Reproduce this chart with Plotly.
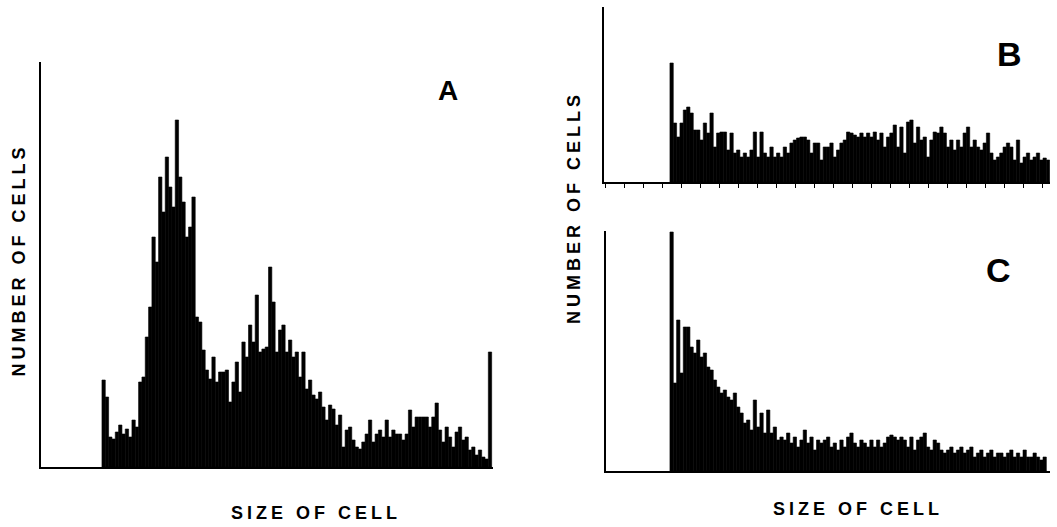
import plotly.graph_objects as go

# ---- data (counts per size channel) ----
a_counts = [87, 70, 30, 28, 35, 42, 33, 38, 30, 47,
            40, 85, 90, 130, 160, 230, 205, 290, 255, 310,
            280, 260, 347, 290, 265, 230, 240, 270, 150, 145,
            117, 97, 88, 110, 85, 95, 95, 97, 65, 85,
            105, 75, 125, 110, 142, 125, 172, 115, 118, 120,
            200, 165, 115, 137, 142, 115, 127, 110, 115, 90,
            115, 78, 87, 72, 68, 75, 60, 47, 62, 58,
            42, 52, 20, 37, 40, 27, 20, 18, 25, 33,
            47, 25, 33, 37, 30, 47, 30, 37, 33, 33,
            27, 33, 57, 40, 50, 50, 50, 50, 40, 50,
            64, 37, 25, 40, 30, 20, 35, 40, 27, 30,
            17, 20, 12, 17, 10, 8, 115]

b_counts = [119, 59, 45, 59, 72, 75, 69, 52, 52, 42,
            59, 49, 69, 35, 49, 50, 50, 32, 49, 29,
            32, 25, 29, 25, 32, 50, 25, 50, 29, 25,
            35, 25, 29, 25, 35, 29, 39, 42, 44, 45,
            45, 42, 29, 39, 39, 22, 35, 35, 39, 25,
            32, 39, 42, 50, 49, 47, 45, 49, 45, 49,
            45, 50, 42, 49, 35, 45, 49, 57, 35, 55,
            29, 60, 62, 39, 55, 42, 45, 25, 42, 50,
            49, 55, 49, 35, 42, 32, 42, 35, 49, 55,
            35, 42, 35, 32, 39, 49, 29, 22, 25, 29,
            35, 39, 35, 22, 42, 19, 25, 29, 22, 25,
            29, 22, 24, 22]

c_counts = [239, 88, 151, 98, 144, 144, 124, 118, 131, 114,
            118, 104, 101, 91, 84, 78, 81, 74, 71, 78,
            64, 58, 48, 51, 41, 71, 44, 58, 38, 61,
            38, 44, 31, 34, 31, 38, 28, 34, 24, 31,
            41, 28, 34, 21, 31, 28, 31, 34, 24, 28,
            21, 31, 24, 34, 38, 28, 24, 31, 28, 24,
            31, 24, 31, 24, 28, 34, 36, 34, 31, 34,
            31, 24, 34, 21, 31, 34, 38, 24, 21, 31,
            28, 21, 18, 21, 24, 18, 21, 24, 18, 21,
            24, 14, 18, 21, 14, 18, 21, 14, 18, 18,
            14, 18, 21, 14, 18, 14, 21, 14, 14, 18,
            14, 11, 14]

x_title = "SIZE OF CELL"
y_title = "NUMBER OF CELLS"
panel_names = ["A", "B", "C"]

W, H = 1057, 527
INK = "#000000"


def channels(counts):
    return list(range(len(counts)))


def bar(counts, xa, ya):
    return go.Bar(x=channels(counts), y=counts, xaxis=xa, yaxis=ya,
                  width=1.0, marker=dict(color=INK, line=dict(color=INK, width=0.6)),
                  showlegend=False, hoverinfo="skip")


fig = go.Figure()
fig.add_trace(bar(a_counts, "x", "y"))
fig.add_trace(bar(b_counts, "x2", "y2"))
fig.add_trace(bar(c_counts, "x3", "y3"))


def px_x(v):
    return v / W


def px_y(v):
    return 1 - v / H


axis_common = dict(showline=True, linecolor=INK, linewidth=1.6, showgrid=False,
                   zeroline=False, showticklabels=False, fixedrange=True)

fig.update_layout(
    width=W, height=H,
    margin=dict(l=0, r=0, t=0, b=0),
    paper_bgcolor="white", plot_bgcolor="white",
    bargap=0,
    xaxis=dict(domain=[px_x(41), px_x(493)], range=[-18.8, 116.9], anchor="y",
               ticks="", **axis_common),
    yaxis=dict(domain=[px_y(467), px_y(62)], range=[0, 405], anchor="x",
               ticks="", **axis_common),
    xaxis2=dict(domain=[px_x(604), px_x(1050)], range=[-20.3, 113.6], anchor="y2",
                ticks="outside", ticklen=4, tickwidth=1, tickcolor=INK,
                tick0=3.0, dtick=5.7, **axis_common),
    yaxis2=dict(domain=[px_y(182), px_y(7)], range=[0, 175], anchor="x2",
                ticks="", **axis_common),
    xaxis3=dict(domain=[px_x(606), px_x(1050)], range=[-19.7, 113.6], anchor="y3",
                ticks="", **axis_common),
    yaxis3=dict(domain=[px_y(471), px_y(231)], range=[0, 240], anchor="x3",
                ticks="", **axis_common),
)

label_font = dict(family="Liberation Sans, Arial, sans-serif", size=18, color=INK,
                  weight="bold")


def spaced(text, sp):
    return '<b><span style="letter-spacing:%dpx">%s</span></b>' % (sp, text)


ann = []
# axis titles
ann.append(dict(text=spaced(y_title, 4), x=px_x(18.5), y=px_y(260), textangle=-90,
                font=label_font))
ann.append(dict(text=spaced(y_title, 4), x=px_x(574), y=px_y(208), textangle=-90,
                font=label_font))
ann.append(dict(text=spaced(x_title, 4), x=px_x(316), y=px_y(513), font=label_font))
ann.append(dict(text=spaced(x_title, 4), x=px_x(858), y=px_y(509), font=label_font))
# panel letters
letter_pos = [(448, 90, 28), (1009.5, 54.5, 34), (998.5, 270, 34)]
for name, (lx, ly, fs) in zip(panel_names, letter_pos):
    ann.append(dict(text=name, x=px_x(lx), y=px_y(ly),
                    font=dict(family="Liberation Sans, Arial, sans-serif", size=fs,
                              color=INK, weight="bold")))

for a in ann:
    a.update(xref="paper", yref="paper", showarrow=False,
             xanchor="center", yanchor="middle")
fig.update_layout(annotations=ann)

fig.write_html("out.html",
               config={"displayModeBar": False, "staticPlot": True},
               post_script="document.body.style.margin='0';document.body.style.overflow='hidden';")
